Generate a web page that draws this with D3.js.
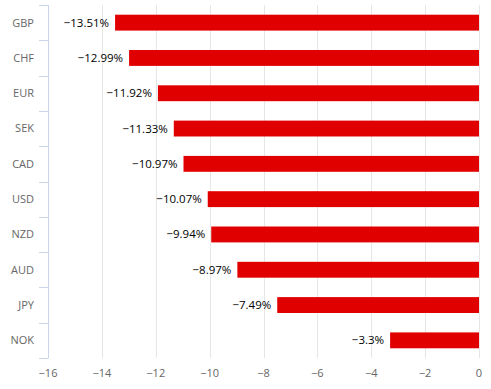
<!DOCTYPE html>
<html><head><meta charset="utf-8">
<script src="https://cdn.jsdelivr.net/npm/d3@7"></script>
<style>body{margin:0;background:#fff}svg{display:block;font-family:"Open Sans","Noto Sans",sans-serif}</style>
</head><body>
<svg id="c" width="491" height="389"></svg>
<script>
const categories = ["GBP","CHF","EUR","SEK","CAD","USD","NZD","AUD","JPY","NOK"];
const values = [-13.51,-12.99,-11.92,-11.33,-10.97,-10.07,-9.94,-8.97,-7.49,-3.3];
const xTicks = [-16,-14,-12,-10,-8,-6,-4,-2,0];

(function(){
const svg = d3.select("#c");
const mL = 48, mR = 479, mT = 5, mB = 358;
const x = d3.scaleLinear().domain([-16,0]).range([mL,mR]);
const y = d3.scaleBand().domain(categories).range([mT,mB]).paddingInner(0.55).paddingOuter(0.275);
const yb = d3.scaleBand().domain(categories).range([mT,mB]);

svg.append("g").selectAll("line").data(xTicks.filter(t=>t!==-16)).join("line")
  .attr("x1",d=>Math.round(x(d))+0.5).attr("x2",d=>Math.round(x(d))+0.5)
  .attr("y1",mT).attr("y2",mB).attr("stroke","#e6e6e6").attr("stroke-width",1);

svg.append("g").selectAll("rect").data(values).join("rect")
  .attr("x",d=>x(d)).attr("width",d=>x(0)-x(d))
  .attr("y",(d,i)=>y(categories[i])).attr("height",y.bandwidth())
  .attr("fill","#e10000");

svg.append("g").selectAll("text").data(values).join("text")
  .attr("x",d=>x(d)-6).attr("y",(d,i)=>y(categories[i])+y.bandwidth()/2)
  .attr("dy","0.35em").attr("text-anchor","end")
  .attr("font-size",11.5).attr("fill","#000")
  .text(d=>"\u2212"+Math.abs(d)+"%");

const yAxis = svg.append("g");
yAxis.append("line").attr("x1",mL+0.5).attr("x2",mL+0.5).attr("y1",mT).attr("y2",mB).attr("stroke","#ccd6eb");
const bounds = categories.map(c=>yb(c)).concat([mB]);
yAxis.selectAll("line.tk").data(bounds).join("line").attr("class","tk")
  .attr("x1",mL-9).attr("x2",mL+0.5).attr("y1",d=>Math.round(d)+0.5).attr("y2",d=>Math.round(d)+0.5)
  .attr("stroke","#ccd6eb");
yAxis.selectAll("text").data(categories).join("text")
  .attr("x",34).attr("y",d=>yb(d)+yb.bandwidth()/2).attr("dy","0.35em")
  .attr("text-anchor","end").attr("font-size",11).attr("fill","#666").text(d=>d);

svg.append("g").selectAll("text").data(xTicks).join("text")
  .attr("x",d=>x(d)).attr("y",377).attr("text-anchor","middle")
  .attr("font-size",11).attr("fill","#666")
  .text(d=>d<0?"\u2212"+Math.abs(d):String(d));
})();
</script>
</body></html>
